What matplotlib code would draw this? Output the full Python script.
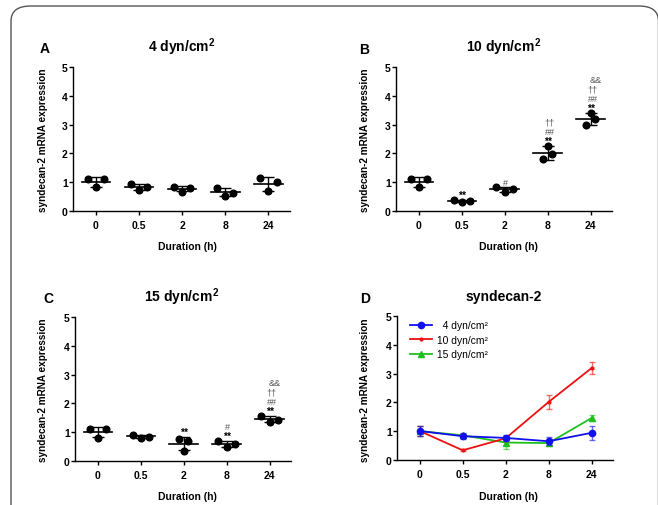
import numpy as np
import matplotlib
matplotlib.use('Agg')
import matplotlib.pyplot as plt
from matplotlib.patches import FancyBboxPatch

plt.rcParams['font.family'] = ['Liberation Sans', 'DejaVu Sans']
plt.rcParams['font.weight'] = 'bold'
plt.rcParams['mathtext.fontset'] = 'custom'
plt.rcParams['mathtext.rm'] = 'Liberation Sans'
plt.rcParams['mathtext.bf'] = 'Liberation Sans:bold'

# ---------------- data ----------------
durations = ['0', '0.5', '2', '8', '24']
shear_labels = ['4 dyn/cm$^\\mathbf{2}$', '10 dyn/cm$^\\mathbf{2}$',
                '15 dyn/cm$^\\mathbf{2}$']
legend_labels = ['  4 dyn/cm²', '10 dyn/cm²', '15 dyn/cm²']
panel_letters = ['A', 'B', 'C', 'D']

# replicate values (left, middle, right point) per duration
rep_4 = [[1.10, 0.82, 1.10], [0.93, 0.73, 0.82], [0.83, 0.67, 0.80],
         [0.80, 0.52, 0.63], [1.13, 0.68, 1.02]]
rep_10 = [[1.10, 0.82, 1.10], [0.38, 0.30, 0.33], [0.83, 0.67, 0.76],
          [1.80, 2.27, 1.97], [2.97, 3.40, 3.20]]
rep_15 = [[1.10, 0.81, 1.10], [0.91, 0.81, 0.85], [0.78, 0.35, 0.69],
          [0.69, 0.47, 0.60], [1.57, 1.37, 1.43]]

# significance marks per duration (bottom to top)
sig_4 = [[], [], [], [], []]
sig_10 = [[], ['**'], ['#'], ['**', '##', '††'], ['**', '##', '††', '&&']]
sig_15 = [[], [], ['**'], ['**', '#'], ['**', '##', '††', '&&']]

# ---------------- style ----------------
W, H = 658, 506
fig = plt.figure(figsize=(W / 100, H / 100), dpi=100)


def fx(px):
    return px / W


def fy(py):
    return 1 - py / H


# rounded frame
frame = FancyBboxPatch((fx(11), fy(530)), fx(647.5), (530 - 7) / H,
                       boxstyle='round,pad=0,rounding_size=0.03',
                       transform=fig.transFigure, fill=False,
                       edgecolor='#555555', linewidth=1.0)
fig.patches.append(frame)

spread_std = [0.19] * 5
spreads = {
    0: spread_std,
    1: [0.19, 0.19, 0.19, 0.10, 0.10],
    2: [0.19, 0.19, 0.10, 0.19, 0.19],
}
sym_dx = {'**': 0.0, '#': 0.5, '##': 1.5, '††': 1.5, '&&': 3.5}

# axes boxes (left, top, right, bottom) in pixels
boxes = [(73, 68, 290, 212), (396, 68, 612, 212),
         (75, 318, 291, 462), (397, 317, 613, 461)]
title_pos = [(182, 52), (504, 52), (182, 302), (504, 301)]
letter_pos = [(40, 53), (359, 54), (43, 303), (360, 303)]
ylab_pos = [(43.5, 140), (364.5, 140), (43.5, 390), (365, 390)]
xlab_pos = [(187, 250), (508, 250), (187, 500), (508, 500)]
titles = shear_labels + ['syndecan-2']

x = np.arange(len(durations))


def make_ax(i):
    l, t, r, b = boxes[i]
    ax = fig.add_axes([fx(l), fy(b), (r - l) / W, (b - t) / H])
    ax.set_xlim(-0.53, 4.5)
    ax.set_ylim(0, 5)
    ax.set_yticks([0, 1, 2, 3, 4, 5])
    ax.set_xticks(x)
    ax.set_xticklabels(durations)
    for s in ['top', 'right']:
        ax.spines[s].set_visible(False)
    for s in ['left', 'bottom']:
        ax.spines[s].set_linewidth(1.0)
    ax.tick_params(axis='both', direction='out', length=3, width=1.0,
                   labelsize=7.5)
    ax.tick_params(axis='y', pad=0.8)
    ax.tick_params(axis='x', pad=3.5)
    for lab in ax.get_xticklabels() + ax.get_yticklabels():
        lab.set_fontweight('bold')
    tx, ty = title_pos[i]
    fig.text(fx(tx), fy(ty), titles[i], ha='center', va='baseline',
             fontsize=10, fontweight='bold')
    lx, ly = letter_pos[i]
    fig.text(fx(lx), fy(ly), panel_letters[i], ha='left', va='baseline',
             fontsize=10, fontweight='bold')
    yx, yy = ylab_pos[i]
    fig.text(fx(yx), fy(yy), 'syndecan-2 mRNA expression', rotation=90,
             ha='center', va='center', fontsize=7.2, fontweight='bold')
    xx, xy = xlab_pos[i]
    fig.text(fx(xx), fy(xy), 'Duration (h)', ha='center', va='baseline',
             fontsize=7.5, fontweight='bold')
    return ax


reps = [rep_4, rep_10, rep_15]
sigs = [sig_4, sig_10, sig_15]

for i in range(3):
    ax = make_ax(i)
    data = np.array(reps[i])
    means = data.mean(axis=1)
    sds = data.std(axis=1, ddof=1)
    for k in range(len(durations)):
        sp = spreads[i][k]
        ax.plot(x[k] + np.array([-sp, 0, sp]), data[k], 'o', color='black',
                markersize=4.8, zorder=3, clip_on=False)
        ax.plot([x[k] - 0.33, x[k] + 0.33], [means[k]] * 2, color='black',
                lw=1.2, zorder=2)
        ax.errorbar(x[k], means[k], yerr=sds[k], fmt='none', ecolor='black',
                    elinewidth=1.0, capsize=4, capthick=1.0, zorder=2)
        top = max(data[k].max(), means[k] + sds[k])
        for j, s in enumerate(sigs[i][k]):
            bold = s == '**'
            ax.annotate(s, (x[k], top), xytext=(sym_dx[s], 1.5 + 7.0 * j),
                        textcoords='offset points', ha='center',
                        va='baseline',
                        fontsize=7.5 if bold else 6.5,
                        fontweight='bold' if bold else 'normal',
                        color='black' if bold else '#555555')

# panel D
ax = make_ax(3)
colors = ['#1010ee', '#ee1010', '#20c020']
markers = ['o', '.', '^']
msizes = [4.5, 4.0, 4.5]
order = [2, 1, 0]
handles = {}
for i in order:
    data = np.array(reps[i])
    means = data.mean(axis=1)
    sds = data.std(axis=1, ddof=1)
    ax.errorbar(x, means, yerr=sds, fmt='none', ecolor=colors[i],
                elinewidth=1.0, capsize=2.2, capthick=1.0, alpha=0.6,
                zorder=2 + (2 - i))
    h, = ax.plot(x, means, marker=markers[i], color=colors[i], lw=1.3,
                 markersize=msizes[i], zorder=3 + (2 - i), clip_on=False)
    handles[i] = h
ax.legend([handles[0], handles[1], handles[2]], legend_labels,
          loc='upper left', bbox_to_anchor=(fx(405), fy(316)),
          bbox_transform=fig.transFigure, frameon=False, borderpad=0,
          handlelength=2.1, handletextpad=0.5, labelspacing=0.45,
          prop={'size': 7.4, 'weight': 'normal'})

fig.savefig('out.png', dpi=100)
